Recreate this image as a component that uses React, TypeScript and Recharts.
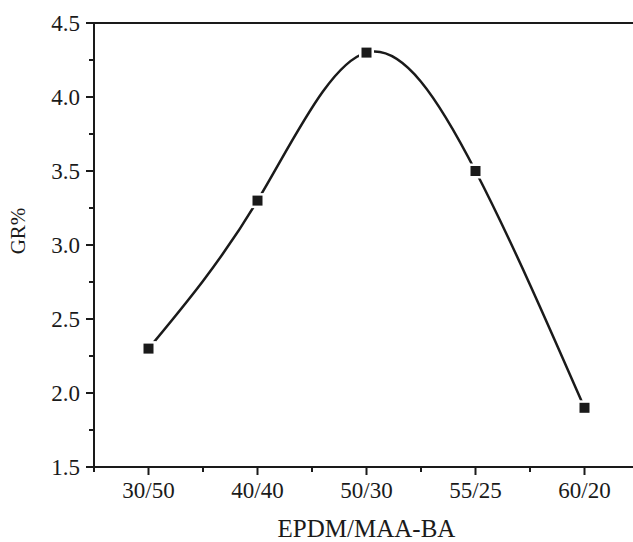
import { Label, Line, LineChart, ReferenceLine, XAxis, YAxis } from "recharts";

const categories = ["30/50", "40/40", "50/30", "55/25", "60/20"];
const grValues = [2.3, 3.3, 4.3, 3.5, 1.9];
const yMajor = [1.5, 2, 2.5, 3, 3.5, 4, 4.5];
const yMinor = [1.75, 2.25, 2.75, 3.25, 3.75, 4.25];
const xMajor = [1, 2, 3, 4, 5];
const xMinor = [0.5, 1.5, 2.5, 3.5, 4.5, 5.5];

const data = categories.map((name, i) => ({ x: i + 1, name, gr: grValues[i] }));

const INK = "#1a1a1a";
const FONT = '"Liberation Serif", "Times New Roman", serif';
const TICK = 8;
const MINOR = 5;
const GAP_Y = 6;
const GAP_X = 7;

function YTick(props: any) {
  const { x, y, payload } = props;
  const axisX = x + TICK + GAP_Y;
  const major = yMajor.includes(payload.value);
  return (
    <g>
      <line x1={axisX - (major ? TICK : MINOR)} x2={axisX} y1={y} y2={y} stroke={INK} strokeWidth={2} />
      {major && (
        <text x={x} y={y} dy="0.35em" textAnchor="end" fontSize={23} fontFamily={FONT} fill={INK}>
          {payload.value.toFixed(1)}
        </text>
      )}
    </g>
  );
}

function XTick(props: any) {
  const { x, y, payload } = props;
  const axisY = y - TICK - GAP_X;
  const major = xMajor.includes(payload.value);
  return (
    <g>
      <line x1={x} x2={x} y1={axisY} y2={axisY + (major ? TICK : MINOR)} stroke={INK} strokeWidth={2} />
      {major && (
        <text x={x} y={y} dy="0.71em" textAnchor="middle" fontSize={23} fontFamily={FONT} fill={INK}>
          {categories[payload.value - 1]}
        </text>
      )}
    </g>
  );
}

function SquareDot(props: any) {
  const { cx, cy } = props;
  if (cx == null || cy == null) return <g />;
  return (
    <g>
      <rect x={cx - 7.5} y={cy - 7.5} width={15} height={15} fill="#fff" />
      <rect x={cx - 5} y={cy - 5} width={10} height={10} fill={INK} />
    </g>
  );
}

export default function App() {
  return (
    <div style={{ position: "absolute", left: 0, top: 0, width: 633, height: 542, overflow: "hidden", background: "#fff" }}>
      <LineChart width={650} height={542} data={data} margin={{ top: 23, right: 11, left: 0, bottom: 0 }}>
        <XAxis
          dataKey="x"
          type="number"
          domain={[0.5, 5.5]}
          ticks={[...xMinor, ...xMajor].sort((a, b) => a - b)}
          interval={0}
          tickSize={TICK}
          tickMargin={GAP_X}
          tickLine={false}
          tick={<XTick />}
          axisLine={{ stroke: INK, strokeWidth: 2 }}
          height={75}
        >
          <Label
            value="EPDM/MAA-BA"
            position="insideBottom"
            offset={5}
            style={{ fontSize: 25, fontFamily: FONT, fill: INK }}
          />
        </XAxis>
        <YAxis
          type="number"
          domain={[1.5, 4.5]}
          ticks={[...yMinor, ...yMajor].sort((a, b) => a - b)}
          interval={0}
          tickSize={TICK}
          tickMargin={GAP_Y}
          tickLine={false}
          tick={<YTick />}
          axisLine={{ stroke: INK, strokeWidth: 2 }}
          width={94}
        >
          <Label
            content={({ viewBox }: any) => {
              const cx = viewBox.x + 18;
              const cy = viewBox.y + viewBox.height / 2 - 14;
              return (
                <text
                  x={cx}
                  y={cy}
                  transform={`rotate(-90 ${cx} ${cy})`}
                  textAnchor="middle"
                  dominantBaseline="central"
                  fontSize={21}
                  fontFamily={FONT}
                  fill={INK}
                >
                  GR%
                </text>
              );
            }}
          />
        </YAxis>
        <ReferenceLine y={4.5} stroke={INK} strokeWidth={2} />
        <Line
          type="natural"
          dataKey="gr"
          stroke={INK}
          strokeWidth={2.5}
          dot={(p: any) => <SquareDot key={p.index} {...p} />}
          activeDot={false}
          isAnimationActive={false}
        />
      </LineChart>
    </div>
  );
}
